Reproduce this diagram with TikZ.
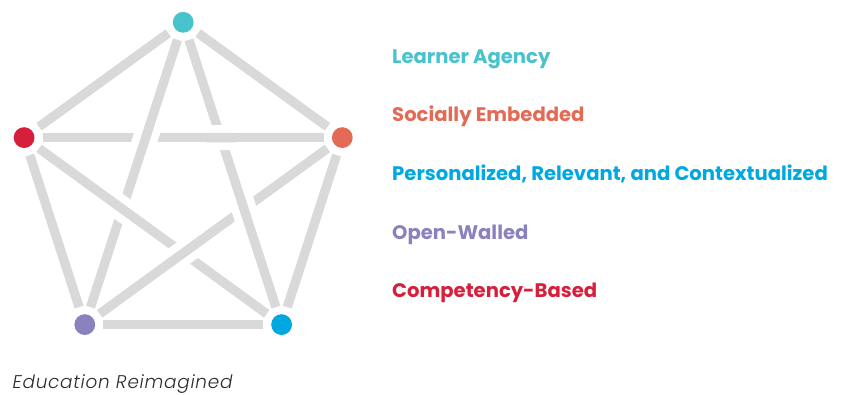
\documentclass[tikz,border=0pt]{standalone}
\usepackage{fontspec}
\setmainfont{Poppins}
\newfontfamily\srcfont{Poppins Light Italic}[LetterSpace=4]
\usetikzlibrary{calc}
\definecolor{cteal}{HTML}{48C2CC}
\definecolor{corange}{HTML}{E46A56}
\definecolor{cblue}{HTML}{00A8E1}
\definecolor{cpurple}{HTML}{8A82BF}
\definecolor{cred}{HTML}{D61F3B}
\definecolor{cgray}{HTML}{D9D9D9}
\definecolor{ctext}{HTML}{2B2B2B}
\tikzset{
  dot/.style={circle, minimum size=20.8pt, inner sep=0pt, fill=#1, outer sep=8pt},
  edge/.style={draw=cgray, line width=9.3pt},
  halo/.style={draw=white, line width=25pt},
  label/.style={anchor=base west, inner sep=0pt, font=\fontsize{19.6}{22}\selectfont\bfseries, text=#1},
}
\newcommand{\overcross}[3]{% crossing point, over line ends
  \draw[halo] ($(#1)!14pt!(#2)$) -- ($(#1)!14pt!(#3)$);
  \draw[edge] ($(#1)!15pt!(#2)$) -- ($(#1)!15pt!(#3)$);
}
\begin{document}
\begin{tikzpicture}[x=1pt,y=-1pt]
\useasboundingbox (0,0) rectangle (841,394);
\coordinate (t) at (183.2,22.3);
\coordinate (r) at (342.3,137.6);
\coordinate (br) at (281.6,324.6);
\coordinate (bl) at (84.8,324.6);
\coordinate (l) at (24.1,137.6);
\node[dot=cteal] (T) at (t) {};
\node[dot=corange] (R) at (r) {};
\node[dot=cblue] (BR) at (br) {};
\node[dot=cpurple] (BL) at (bl) {};
\node[dot=cred] (L) at (l) {};
% pentagon edges
\draw[edge] (T) -- (R);
\draw[edge] (R) -- (BR);
\draw[edge] (BR) -- (BL);
\draw[edge] (BL) -- (L);
\draw[edge] (L) -- (T);
% star diagonals
\draw[edge] (T) -- (BL);
\draw[edge] (T) -- (BR);
\draw[edge] (L) -- (R);
\draw[edge] (L) -- (BR);
\draw[edge] (R) -- (BL);
% weaving crossings
\coordinate (x1) at (intersection of t--br and l--r);
\coordinate (x2) at (intersection of t--bl and l--r);
\coordinate (x3) at (intersection of t--bl and l--br);
\coordinate (x4) at (intersection of l--br and r--bl);
\coordinate (x5) at (intersection of r--bl and t--br);
\overcross{x1}{l}{r}
\overcross{x2}{t}{bl}
\overcross{x3}{l}{br}
\overcross{x4}{r}{bl}
\overcross{x5}{t}{br}
% labels
\node[label=cteal] (lab1) at (392,63.3) {Learner Agency};
\node[label=corange] (lab2) at (392,121) {Socially Embedded};
\node[label=cblue] (lab3) at (392,180) {Personalized, Relevant, and Contextualized};
\node[label=cpurple] (lab4) at (392,239) {Open-Walled};
\node[label=cred] (lab5) at (392,297) {Competency-Based};
\node[anchor=base west, inner sep=0pt, font=\srcfont\fontsize{18.4}{20}\selectfont, text=ctext] (src) at (12.5,388) {Education Reimagined};
\end{tikzpicture}
\end{document}
